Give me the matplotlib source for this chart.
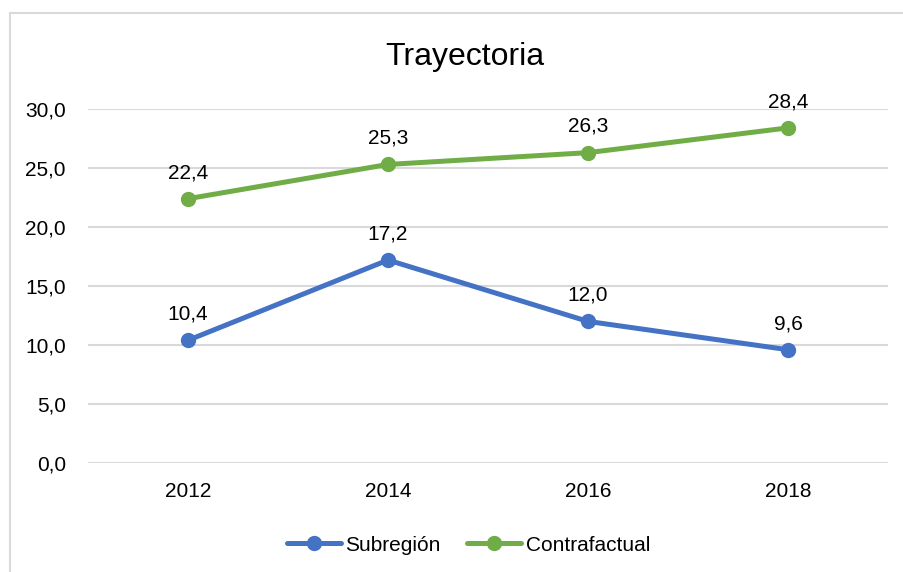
import matplotlib
matplotlib.use("Agg")
import matplotlib.pyplot as plt
from matplotlib.patches import Rectangle
from matplotlib.ticker import FuncFormatter

# data
years = ["2012", "2014", "2016", "2018"]
subregion = [10.4, 17.2, 12.0, 9.6]
contrafactual = [22.4, 25.3, 26.3, 28.4]

plt.rcParams["font.family"] = ["Liberation Sans Narrow", "Liberation Sans", "DejaVu Sans"]

fig = plt.figure(figsize=(9.04, 5.72), dpi=100)
ax = fig.add_axes([88 / 904, 109 / 572, 800 / 904, 354 / 572])

# chart border like excel
fig.patches.append(Rectangle((10 / 904, -0.1), 1.2, (572 - 13) / 572 + 0.1,
                             transform=fig.transFigure, fill=False,
                             edgecolor="#D9D9D9", linewidth=1.5))

x = range(len(years))
ax.plot(x, subregion, color="#4472C4", lw=3.6, marker="o", ms=10,
        solid_capstyle="round", label="Subregión")
ax.plot(x, contrafactual, color="#70AD47", lw=3.6, marker="o", ms=10,
        solid_capstyle="round", label="Contrafactual")

for vals in (subregion, contrafactual):
    for i, v in enumerate(vals):
        ax.annotate(f"{v:.1f}".replace(".", ","), (i, v), xytext=(0, 12),
                    textcoords="offset points", ha="center", va="bottom",
                    fontsize=15, color="black")

ax.set_xlim(-0.5, 3.5)
ax.set_ylim(0, 30)
ax.set_yticks(range(0, 31, 5))
ax.yaxis.set_major_formatter(FuncFormatter(lambda v, p: f"{v:.1f}".replace(".", ",")))
ax.set_xticks(list(x))
ax.set_xticklabels(years)
ax.tick_params(length=0, labelsize=15, colors="black")
ax.tick_params(axis="y", pad=16)
ax.tick_params(axis="x", pad=14)
ax.grid(axis="y", color="#D9D9D9", lw=1.5)
ax.set_axisbelow(True)
for s in ax.spines.values():
    s.set_visible(False)

fig.text(0.514, 0.9, "Trayectoria", ha="center", va="center", fontsize=23)

fig.legend(loc="center", bbox_to_anchor=(0.518, 0.047), ncol=2, frameon=False,
           fontsize=15, handlelength=2.6, columnspacing=1.3, handletextpad=0.2)

fig.savefig("out.png", dpi=100)
